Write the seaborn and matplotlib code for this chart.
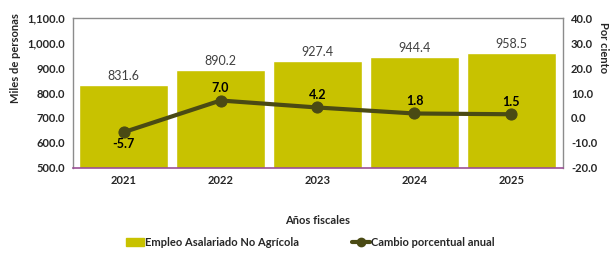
import pandas as pd
import numpy as np
import seaborn as sns
import matplotlib.pyplot as plt
from matplotlib.lines import Line2D
from matplotlib.patches import Patch

years = ["2021", "2022", "2023", "2024", "2025"]
empleo = [831.6, 890.2, 927.4, 944.4, 958.5]
cambio = [-5.7, 7.0, 4.2, 1.8, 1.5]

df = pd.DataFrame({"year": years, "empleo": empleo, "cambio": cambio})

bar_color = "#C8C200"
line_color = "#4A4A14"

sns.set_style("white")
plt.rcParams["font.family"] = ["Lato", "DejaVu Sans"]

fig = plt.figure(figsize=(6.15, 2.58), dpi=100)
ax = fig.add_axes([0.119, 0.349, 0.796, 0.581])

sns.barplot(x="year", y="empleo", data=df, color=bar_color, width=0.92,
            saturation=1, ax=ax)
ax.set_ylim(500, 1100)
ax.set_yticks(np.arange(500, 1101, 100))
ax.set_yticklabels([f"{v:,.1f}" for v in np.arange(500, 1101, 100)],
                   fontsize=8, fontweight="bold")
ax.set_xlim(-0.52, 4.53)
ax.set_xlabel("Años fiscales", fontsize=8, fontweight="bold", labelpad=21)
ax.set_ylabel("Miles de personas", fontsize=8, fontweight="bold")
ax.yaxis.set_label_coords(-0.107, 0.73)
ax.tick_params(axis="x", labelsize=8, length=0, pad=5)
ax.tick_params(axis="y", length=0, pad=6)
for lbl in ax.get_xticklabels():
    lbl.set_fontweight("bold")

for i, v in enumerate(empleo):
    ax.text(i, v + 12, f"{v:.1f}", ha="center", va="bottom",
            fontsize=9, color="#404040")

for side in ["left", "top", "right"]:
    ax.spines[side].set_color("#8c8c8c")
    ax.spines[side].set_linewidth(1.0)
ax.spines["bottom"].set_color("#9b4f96")
ax.spines["bottom"].set_linewidth(1.2)

ax2 = ax.twinx()
sns.lineplot(x=np.arange(len(years)), y=cambio, color=line_color, lw=3,
             marker="o", markersize=8, markeredgecolor=line_color, ax=ax2)
ax2.set_ylim(-20, 40)
ax2.set_yticks(np.arange(-20, 41, 10))
ax2.set_yticklabels([f"{v:.1f}" for v in np.arange(-20, 41, 10)],
                    fontsize=8, fontweight="bold")
ax2.tick_params(axis="y", length=0, pad=6)
ax2.set_ylabel("Por ciento", fontsize=8, fontweight="bold", rotation=270)
ax2.yaxis.set_label_coords(1.095, 0.8)
for side in ["left", "top", "right", "bottom"]:
    ax2.spines[side].set_visible(False)

for i, v in enumerate(cambio):
    if v < 0:
        ax2.text(i, v - 2.5, f"{v:.1f}", ha="center", va="top",
                 fontsize=9, fontweight="bold", color="black")
    else:
        ax2.text(i, v + 2.5, f"{v:.1f}", ha="center", va="bottom",
                 fontsize=9, fontweight="bold", color="black")

handles = [Patch(color=bar_color, label="Empleo Asalariado No Agrícola"),
           Line2D([0], [0], color=line_color, lw=3, marker="o", markersize=6,
                  label="Cambio porcentual anual")]
fig.legend(handles=handles, loc="lower center", bbox_to_anchor=(0.505, 0.0),
           ncol=2, frameon=False, handlelength=1.6,
           handletextpad=0.1, columnspacing=4.8,
           prop={"weight": "bold", "size": 8})

fig.savefig("out.png", dpi=100)
